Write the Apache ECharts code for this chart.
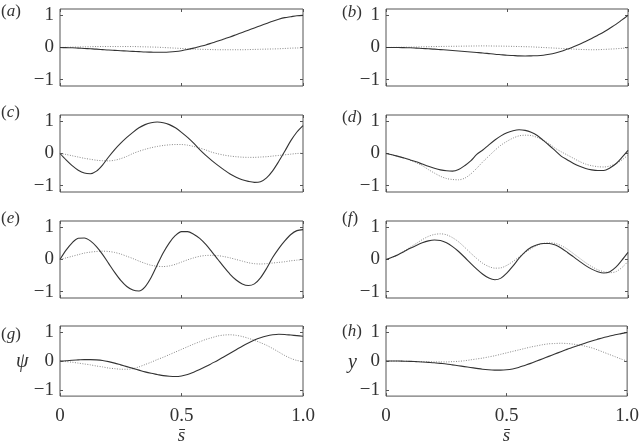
<!DOCTYPE html>
<html>
<head>
<meta charset="utf-8">
<script src="https://cdn.jsdelivr.net/npm/echarts@6/dist/echarts.min.js"></script>
<style>
  html, body { margin: 0; padding: 0; background: #fff; }
  #main { width: 642px; height: 446px; }
</style>
</head>
<body>
<div id="main"></div>
<script>
// arc length samples (step 0.025), shared by every panel
const xs = [0, 0.025, 0.05, 0.075, 0.1, 0.125, 0.15, 0.175, 0.2, 0.225,
            0.25, 0.275, 0.3, 0.325, 0.35, 0.375, 0.4, 0.425, 0.45, 0.475,
            0.5, 0.525, 0.55, 0.575, 0.6, 0.625, 0.65, 0.675, 0.7, 0.725,
            0.75, 0.775, 0.8, 0.825, 0.85, 0.875, 0.9, 0.925, 0.95, 0.975, 1.0];

// (a)
const solidA = [0, -0.005, -0.01, -0.02, -0.03, -0.04, -0.05, -0.065, -0.08, -0.09,
                -0.1, -0.11, -0.12, -0.13, -0.14, -0.145, -0.15, -0.148, -0.14, -0.125,
                -0.1, -0.065, -0.02, 0.03, 0.08, 0.14, 0.2, 0.265, 0.33, 0.4,
                0.47, 0.54, 0.61, 0.68, 0.75, 0.82, 0.88, 0.93, 0.96, 0.99, 1.0];
const dotA = [0, 0.005, 0.01, 0.015, 0.02, 0.025, 0.03, 0.03, 0.03, 0.03,
              0.03, 0.03, 0.03, 0.025, 0.02, 0.015, 0.01, 0, -0.01, -0.02,
              -0.03, -0.04, -0.05, -0.055, -0.06, -0.065, -0.07, -0.07, -0.07, -0.07,
              -0.07, -0.065, -0.06, -0.055, -0.05, -0.045, -0.04, -0.03, -0.02, -0.015, -0.01];
// (b)
const solidB = [0, 0, 0, -0.005, -0.01, -0.02, -0.03, -0.04, -0.05, -0.065,
                -0.08, -0.095, -0.11, -0.125, -0.14, -0.155, -0.17, -0.19, -0.21, -0.225,
                -0.24, -0.25, -0.26, -0.265, -0.26, -0.255, -0.24, -0.21, -0.17, -0.12,
                -0.05, 0.02, 0.1, 0.19, 0.28, 0.38, 0.48, 0.6, 0.72, 0.86, 1.0];
const dotB = [0, 0.003, 0.005, 0.008, 0.01, 0.015, 0.02, 0.025, 0.03, 0.033,
              0.035, 0.038, 0.04, 0.043, 0.045, 0.048, 0.05, 0.048, 0.045, 0.043,
              0.04, 0.035, 0.03, 0.025, 0.02, 0.01, 0, -0.01, -0.02, -0.03,
              -0.04, -0.05, -0.06, -0.065, -0.07, -0.068, -0.06, -0.05, -0.04, -0.025, -0.01];
// (c)
const solidC = [0, -0.2, -0.38, -0.52, -0.61, -0.63, -0.55, -0.36, -0.11, 0.12,
                0.32, 0.5, 0.66, 0.8, 0.9, 0.96, 0.98, 0.96, 0.9, 0.8,
                0.66, 0.5, 0.32, 0.12, -0.06, -0.22, -0.37, -0.51, -0.64, -0.74,
                -0.82, -0.87, -0.9, -0.88, -0.76, -0.54, -0.25, 0.07, 0.4, 0.67, 0.87];
const dotC = [0, -0.03, -0.07, -0.11, -0.15, -0.18, -0.21, -0.225, -0.23, -0.21,
              -0.16, -0.09, 0, 0.07, 0.13, 0.18, 0.22, 0.25, 0.27, 0.28,
              0.28, 0.26, 0.22, 0.17, 0.11, 0.04, -0.01, -0.05, -0.08, -0.1,
              -0.115, -0.12, -0.12, -0.11, -0.1, -0.08, -0.06, -0.04, -0.02, 0, 0.01];
// (d)
const solidD = [0, -0.04, -0.09, -0.14, -0.2, -0.26, -0.33, -0.4, -0.46, -0.51,
                -0.54, -0.55, -0.5, -0.38, -0.23, -0.03, 0.11, 0.27, 0.42, 0.55,
                0.65, 0.71, 0.74, 0.72, 0.66, 0.56, 0.41, 0.25, 0.08, -0.09,
                -0.2, -0.31, -0.4, -0.47, -0.51, -0.53, -0.53, -0.45, -0.32, -0.12, 0.1];
const dotD = [0, -0.04, -0.09, -0.14, -0.21, -0.29, -0.38, -0.5, -0.61, -0.71,
              -0.78, -0.81, -0.82, -0.77, -0.64, -0.46, -0.26, -0.08, 0.1, 0.26,
              0.38, 0.48, 0.55, 0.57, 0.56, 0.5, 0.41, 0.3, 0.16, 0.05,
              -0.05, -0.15, -0.25, -0.33, -0.38, -0.41, -0.42, -0.39, -0.32, -0.2, -0.05];
// (e)
const solidE = [0, 0.29, 0.52, 0.66, 0.67, 0.58, 0.4, 0.16, -0.12, -0.4,
                -0.65, -0.84, -0.95, -0.98, -0.85, -0.56, -0.17, 0.21, 0.52, 0.75,
                0.87, 0.87, 0.79, 0.66, 0.47, 0.24, 0, -0.24, -0.46, -0.64,
                -0.76, -0.81, -0.76, -0.57, -0.28, 0.06, 0.34, 0.58, 0.78, 0.9, 0.93];
const dotE = [0, 0.05, 0.1, 0.15, 0.2, 0.23, 0.25, 0.26, 0.25, 0.22,
              0.17, 0.1, 0.03, -0.05, -0.12, -0.18, -0.21, -0.22, -0.2, -0.15,
              -0.08, -0.01, 0.05, 0.1, 0.125, 0.13, 0.12, 0.09, 0.05, 0,
              -0.05, -0.1, -0.13, -0.14, -0.13, -0.11, -0.09, -0.07, -0.04, -0.02, 0];
// (f)
const solidF = [0, 0.07, 0.15, 0.25, 0.35, 0.44, 0.52, 0.58, 0.61, 0.59,
                0.52, 0.4, 0.25, 0.07, -0.12, -0.3, -0.46, -0.58, -0.63, -0.58,
                -0.42, -0.2, 0.04, 0.24, 0.38, 0.46, 0.5, 0.5, 0.45, 0.35,
                0.22, 0.08, -0.06, -0.19, -0.3, -0.38, -0.42, -0.38, -0.24, -0.02, 0.22];
const dotF = [0, 0.07, 0.15, 0.26, 0.38, 0.5, 0.62, 0.72, 0.78, 0.8,
              0.77, 0.68, 0.55, 0.38, 0.2, 0.03, -0.12, -0.22, -0.27, -0.26,
              -0.18, -0.06, 0.08, 0.22, 0.34, 0.44, 0.5, 0.52, 0.5, 0.43,
              0.32, 0.18, 0.04, -0.1, -0.22, -0.32, -0.38, -0.41, -0.38, -0.25, -0.06];
// (g)
const solidG = [0, 0.01, 0.03, 0.04, 0.05, 0.05, 0.04, 0.02, -0.02, -0.07,
                -0.13, -0.19, -0.25, -0.31, -0.37, -0.42, -0.46, -0.5, -0.52, -0.53,
                -0.51, -0.46, -0.38, -0.29, -0.19, -0.08, 0.03, 0.15, 0.27, 0.39,
                0.51, 0.62, 0.72, 0.8, 0.86, 0.9, 0.92, 0.91, 0.89, 0.87, 0.85];
const dotG = [0, -0.02, -0.04, -0.07, -0.1, -0.13, -0.17, -0.2, -0.24, -0.26,
              -0.28, -0.28, -0.26, -0.2, -0.12, -0.04, 0.05, 0.13, 0.22, 0.31,
              0.4, 0.49, 0.58, 0.66, 0.74, 0.8, 0.86, 0.89, 0.9, 0.88,
              0.84, 0.78, 0.71, 0.63, 0.54, 0.43, 0.31, 0.19, 0.09, 0.02, -0.01];
// (h)
const solidH = [0, 0, 0, -0.005, -0.01, -0.02, -0.03, -0.045, -0.06, -0.08,
                -0.1, -0.13, -0.16, -0.19, -0.22, -0.25, -0.28, -0.3, -0.31, -0.31,
                -0.3, -0.27, -0.22, -0.15, -0.08, 0, 0.08, 0.16, 0.24, 0.32,
                0.4, 0.47, 0.54, 0.61, 0.68, 0.74, 0.8, 0.85, 0.9, 0.94, 0.98];
const dotH = [0, 0, 0, -0.005, -0.01, -0.015, -0.02, -0.025, -0.03, -0.03,
              -0.03, -0.02, -0.01, 0.01, 0.04, 0.07, 0.1, 0.14, 0.18, 0.23,
              0.28, 0.33, 0.38, 0.43, 0.48, 0.52, 0.56, 0.59, 0.6, 0.61,
              0.6, 0.58, 0.55, 0.51, 0.46, 0.39, 0.31, 0.23, 0.15, 0.07, 0];

const solids = [solidA, solidB, solidC, solidD, solidE, solidF, solidG, solidH];
const dots = [dotA, dotB, dotC, dotD, dotE, dotF, dotG, dotH];
const letters = ['a', 'b', 'c', 'd', 'e', 'f', 'g', 'h'];
const yTicks = [-1, 0, 1];
const xTicks = [0, 0.5, 1];

const serif = '"Liberation Serif", "Times New Roman", serif';
const colLeft = [60, 386];
const colWidth = [243, 242];
const rowTop = [9, 115, 221, 326];
const plotH = 77;
// label anchor positions (left, top) for (a)...(h)
const letterPos = [[1, 3], [342, 4], [1, 104], [342, 109], [1, 210], [342, 210], [1, 326], [342, 323]];

const grid = [], xAxis = [], yAxis = [], series = [], title = [];
const tickStyle = {color: '#555', width: 1};

for (let i = 0; i < 8; i++) {
    const row = Math.floor(i / 2), col = i % 2;
    grid.push({
        left: colLeft[col], top: rowTop[row], width: colWidth[col], height: plotH,
        show: true, borderColor: '#555', borderWidth: 1, backgroundColor: 'transparent'
    });
}
for (let i = 0; i < 8; i++) {
    const row = Math.floor(i / 2);
    xAxis.push({
        gridIndex: i, type: 'value', min: 0, max: 1, position: 'bottom',
        axisLine: {show: false, onZero: false},
        axisTick: {show: true, inside: true, length: 3, lineStyle: tickStyle, customValues: xTicks},
        axisLabel: {
            show: row === 3, customValues: xTicks, margin: 10,
            fontFamily: serif, fontSize: 19, color: '#333',
            formatter: v => (v === 0 ? '0' : v.toFixed(1))
        },
        splitLine: {show: false},
        name: row === 3 ? 's\u0304' : '',
        nameLocation: 'middle', nameGap: 29,
        nameTextStyle: {fontFamily: serif, fontStyle: 'italic', fontSize: 19, color: '#333'}
    });
}
for (let i = 0; i < 8; i++) {
    xAxis.push({
        gridIndex: i, type: 'value', min: 0, max: 1, position: 'top',
        axisLine: {show: false, onZero: false},
        axisTick: {show: true, inside: true, length: 3, lineStyle: tickStyle, customValues: xTicks},
        axisLabel: {show: false}, splitLine: {show: false}
    });
}
for (let i = 0; i < 8; i++) {
    yAxis.push({
        gridIndex: i, type: 'value', min: -1.2, max: 1.2, position: 'left',
        axisLine: {show: false, onZero: false},
        axisTick: {show: true, inside: true, length: 3, lineStyle: tickStyle, customValues: yTicks},
        axisLabel: {
            customValues: yTicks, margin: 6,
            fontFamily: serif, fontSize: 19, color: '#333',
            formatter: v => String(v).replace('-', '\u2212')
        },
        splitLine: {show: false}
    });
}
for (let i = 0; i < 8; i++) {
    yAxis.push({
        gridIndex: i, type: 'value', min: -1.2, max: 1.2, position: 'right',
        axisLine: {show: false, onZero: false},
        axisTick: {show: true, inside: true, length: 3, lineStyle: tickStyle, customValues: yTicks},
        axisLabel: {show: false}, splitLine: {show: false}
    });
}
for (let i = 0; i < 8; i++) {
    series.push({
        type: 'line', xAxisIndex: i, yAxisIndex: i,
        data: xs.map((x, k) => [x, dots[i][k]]),
        smooth: 0.3, showSymbol: false, silent: true, z: 2,
        lineStyle: {color: '#8a8a8a', width: 1, type: [1, 1.5]}
    });
    series.push({
        type: 'line', xAxisIndex: i, yAxisIndex: i,
        data: xs.map((x, k) => [x, solids[i][k]]),
        smooth: 0.3, showSymbol: false, silent: true, z: 3,
        lineStyle: {color: '#333', width: 1.1}
    });
    title.push({
        text: '{p|(}{i|' + letters[i] + '}{p|)}',
        left: letterPos[i][0], top: letterPos[i][1], padding: 0,
        textStyle: {
            fontWeight: 'normal',
            rich: {
                p: {fontFamily: serif, fontSize: 17, fontWeight: 'normal', color: '#333'},
                i: {fontFamily: serif, fontSize: 17, fontWeight: 'normal', fontStyle: 'italic', color: '#333'}
            }
        }
    });
}
// y-quantity names on the bottom row
title.push({
    text: '\u03c8', left: 16, top: 352, padding: 0,
    textStyle: {fontFamily: serif, fontStyle: 'italic', fontSize: 20, fontWeight: 'normal', color: '#333'}
});
title.push({
    text: 'y', left: 348, top: 353, padding: 0,
    textStyle: {fontFamily: serif, fontStyle: 'italic', fontSize: 20, fontWeight: 'normal', color: '#333'}
});

const chart = echarts.init(document.getElementById('main'), null, {renderer: 'canvas'});
chart.setOption({
    animation: false,
    backgroundColor: '#fff',
    title: title,
    grid: grid,
    xAxis: xAxis,
    yAxis: yAxis,
    series: series
});
</script>
</body>
</html>
